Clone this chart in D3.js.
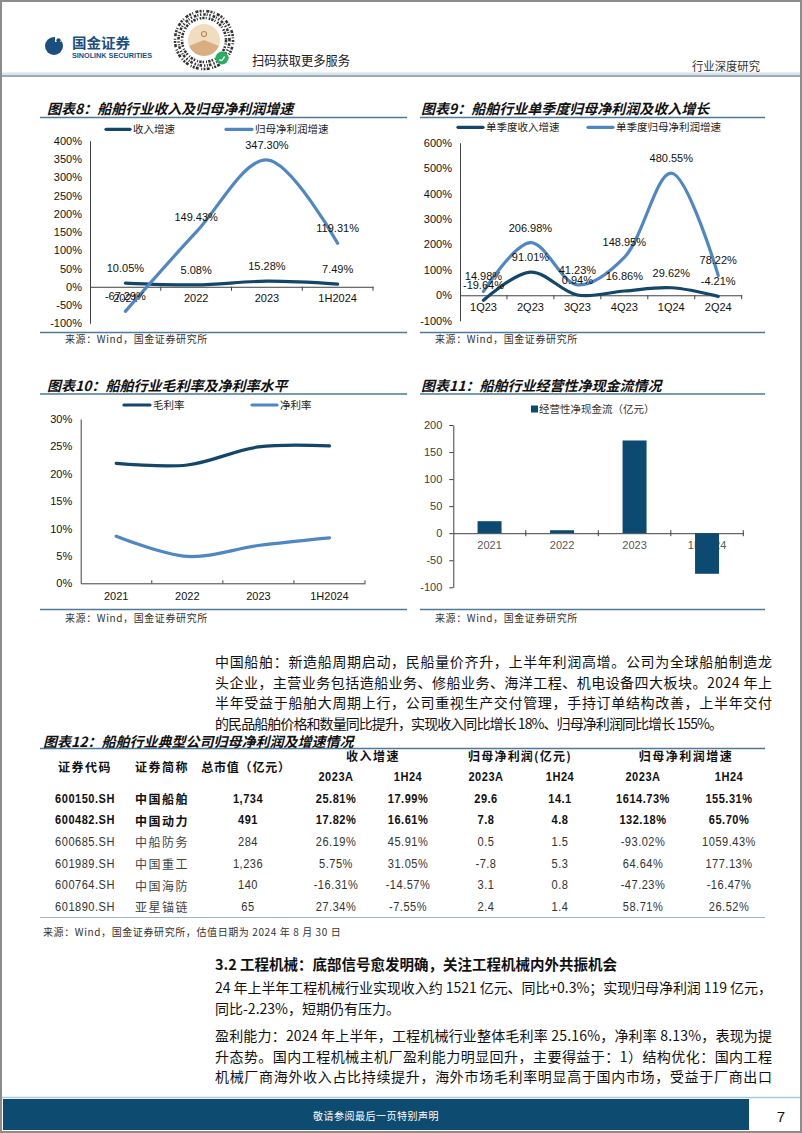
<!DOCTYPE html>
<html><head><meta charset="utf-8">
<script src="https://cdn.jsdelivr.net/npm/d3@7/dist/d3.min.js"></script>
<style>html,body{margin:0;padding:0;background:#fff;}svg{display:block;}</style>
</head><body>
<svg id="page" width="802" height="1133"></svg>
<script>
// ---------------- DATA ----------------
const c8Cats = ["2021","2022","2023","1H2024"];
const c8Rev = [10.05, 5.08, 15.28, 7.49];
const c8Profit = [-67.29, 149.43, 347.30, 119.31];
const c8YTicks = [-100,-50,0,50,100,150,200,250,300,350,400];

const c9Cats = ["1Q23","2Q23","3Q23","4Q23","1Q24","2Q24"];
const c9Rev = [-19.64, 91.01, 0.94, 16.86, 29.62, -4.21];
const c9Profit = [14.98, 206.98, 41.23, 148.95, 480.55, 78.22];
const c9YTicks = [-100,0,100,200,300,400,500,600];

const c10Cats = ["2021","2022","2023","1H2024"];
const c10Gross = [21.9, 21.6, 24.9, 25.1];
const c10Net = [8.6, 4.9, 6.9, 8.3];
const c10YTicks = [0,5,10,15,20,25,30];

const c11Cats = ["2021","2022","2023","1H2024"];
const c11Cash = [22.2, 5.5, 171.4, -75];
const c11YTicks = [-100,-50,0,50,100,150,200];

const tCodes = ["600150.SH","600482.SH","600685.SH","601989.SH","600764.SH","601890.SH"];
const tNames = ["中国船舶","中国动力","中船防务","中国重工","中国海防","亚星锚链"];
const tMktCap = ["1,734","491","284","1,236","140","65"];
const tRev23 = ["25.81%","17.82%","26.19%","5.75%","-16.31%","27.34%"];
const tRev24 = ["17.99%","16.61%","45.91%","31.05%","-14.57%","-7.55%"];
const tNp23 = ["29.6","7.8","0.5","-7.8","3.1","2.4"];
const tNp24 = ["14.1","4.8","1.5","5.3","0.8","1.4"];
const tG23 = ["1614.73%","132.18%","-93.02%","64.64%","-47.23%","58.71%"];
const tG24 = ["155.31%","65.70%","1059.43%","177.13%","-16.47%","26.52%"];

// ---------------- STYLE ----------------
const CN = '"Noto Sans CJK SC", sans-serif';
const LAT = '"Liberation Sans", Arial, "Noto Sans CJK SC", sans-serif';
const DARK = "#12466b";
const LIGHT = "#4f86c4";
const RULE = "#4d7a99";

const svg = d3.select("#page");
svg.append("rect").attr("x",0).attr("y",0).attr("width",802).attr("height",1133).attr("fill","#fff");

function txt(g, x, y, s, o={}) {
  const t = g.append("text").attr("x",x).attr("y",y).text(s)
    .attr("font-family", o.ff || CN).attr("font-size", o.fs || 12)
    .attr("fill", o.fill || "#000").attr("dominant-baseline","central");
  if (o.anchor) t.attr("text-anchor", o.anchor);
  if (o.fw) t.attr("font-weight", o.fw);
  if (o.italic) t.attr("font-style","italic");
  if (o.ls) t.attr("letter-spacing", o.ls);
  if (o.tl) t.attr("textLength", o.tl).attr("lengthAdjust","spacingAndGlyphs");
  if (o.tls) t.attr("textLength", o.tls).attr("lengthAdjust","spacing");
  return t;
}
function hline(x1,x2,y,color,w){ svg.append("line").attr("x1",x1).attr("x2",x2).attr("y1",y).attr("y2",y).attr("stroke",color).attr("stroke-width",w); }

// ---------------- PAGE HEADER ----------------
const logo = svg.append("g");
logo.append("circle").attr("cx",54).attr("cy",46).attr("r",9).attr("fill","#1b4f7f");
logo.append("rect").attr("x",55).attr("y",36).attr("width",6).attr("height",6).attr("fill","#fff");
logo.append("circle").attr("cx",58.5).attr("cy",40.5).attr("r",2.2).attr("fill","#1b4f7f");
txt(svg, 72, 42, "国金证券", {fs:14, fw:"bold", fill:"#1b4f7f", tl:58});
txt(svg, 72, 55, "SINOLINK SECURITIES", {ff:LAT, fs:6.5, fw:"bold", fill:"#1b4f7f", tl:80});
// mini program code
const qr = svg.append("g").attr("transform","translate(204,40)");
[[29,"2 1.3 1 2.5 3 1.2"],[25.5,"1.4 2 2.6 1 1 1.6"],[22,"2.4 1.2 1 2 1.6 1"]].forEach(([r,da])=>{
  qr.append("circle").attr("r",r).attr("fill","none").attr("stroke","#333").attr("stroke-width",2.6).attr("stroke-dasharray",da);
});
qr.append("circle").attr("r",16).attr("fill","#f2dcc0");
qr.append("path").attr("d", d3.arc()({innerRadius:0,outerRadius:16,startAngle:Math.PI*0.62,endAngle:Math.PI*1.38})).attr("fill","#d9ae82");
qr.append("circle").attr("cy",-6).attr("r",2.5).attr("fill","none").attr("stroke","#b8875a").attr("stroke-width",1.2);
qr.append("circle").attr("cx",18).attr("cy",18).attr("r",6.5).attr("fill","#2aae63");
qr.append("path").attr("d","M15.5,19.5 q2.5,3 5,-3").attr("stroke","#fff").attr("stroke-width",1.4).attr("fill","none");
txt(svg, 252, 59, "扫码获取更多服务", {fs:13, fill:"#222", tl:98});
txt(svg, 692, 65, "行业深度研究", {fs:12, fill:"#333", tl:68});
svg.append("rect").attr("x",2).attr("y",72.5).attr("width",798).attr("height",2.5).attr("fill","#d5e4ee");
hline(2,800,76,"#7e8f9b",1.6);

// ---------------- helpers ----------------
function chartTitle(x, y, s, lineX1, lineX2, lineY) {
  txt(svg, x, y, s, {fs:14, fw:"bold", italic:true, fill:"#111"});
  hline(lineX1, lineX2, lineY, RULE, 1.5);
}
function source(x, y, s, lineX1, lineX2, lineY) {
  if (lineY) hline(lineX1, lineX2, lineY, RULE, 1.5);
  txt(svg, x, y, s, {fs:10, fill:"#333", ls:0.6});
}
function lineLegend(g, items, y) {
  items.forEach(it => {
    g.append("line").attr("x1",it.x1).attr("x2",it.x2).attr("y1",y).attr("y2",y)
      .attr("stroke",it.color).attr("stroke-width",3.2).attr("stroke-linecap","round");
    txt(g, it.x2+3, y, it.label, {ff:LAT, fs:10.5, fill:"#222"});
  });
}
function yAxis(g, y, ticks, xPos, fmt, pad, color) {
  const ax = g.append("g").attr("transform",`translate(${xPos},0)`)
    .call(d3.axisLeft(y).tickValues(ticks).tickFormat(fmt).tickSize(0).tickSizeOuter(0).tickPadding(pad));
  ax.select(".domain").attr("stroke","#404040").attr("stroke-width",1);
  ax.selectAll("text").attr("font-family",LAT).attr("font-size",11).attr("fill",color||"#111");
  return ax;
}
function xAxis(g, x, yPos, pad, color, tickUp, tickDown) {
  const ax = g.append("g").attr("transform",`translate(0,${yPos})`)
    .call(d3.axisBottom(x).tickSize(0).tickSizeOuter(0).tickPadding(pad));
  ax.select(".domain").attr("stroke","#404040").attr("stroke-width",1);
  ax.selectAll("text").attr("font-family",LAT).attr("font-size",11).attr("fill",color||"#111");
  const bounds = x.domain().slice(1).map(c=>x(c)).concat([x.range()[1]]);
  ax.selectAll(".bt").data(bounds).enter().append("line").attr("class","bt")
    .attr("x1",d=>d).attr("x2",d=>d).attr("y1",-tickUp).attr("y2",tickDown).attr("stroke","#404040").attr("stroke-width",1);
  return ax;
}
function drawLine(g, x, y, cats, vals, color) {
  const line = d3.line().x((d,i)=>x(cats[i])+x.bandwidth()/2).y(d=>y(d)).curve(d3.curveCatmullRom.alpha(0.5));
  g.append("path").attr("d", line(vals)).attr("fill","none").attr("stroke",color)
    .attr("stroke-width",3.2).attr("stroke-linecap","round").attr("stroke-linejoin","round");
}
function dataLabels(g, x, y, cats, vals) {
  vals.forEach((v,i)=>{
    txt(g, x(cats[i])+x.bandwidth()/2, y(v)-15, v.toFixed(2)+"%", {ff:LAT, fs:11, anchor:"middle", fill:"#111"});
  });
}
const pct = d => d + "%";

// ---------------- CHART 8 ----------------
chartTitle(47, 108, "图表8：船舶行业收入及归母净利润增速", 40, 407, 117.5);
{
  const g = svg.append("g");
  const x = d3.scaleBand().domain(c8Cats).range([90,373]);
  const y = d3.scaleLinear().domain([-100,400]).range([323.3,140.7]);
  yAxis(g, y, c8YTicks, 90, pct, 8);
  xAxis(g, x, y(0), 7, "#111", 0, 4);
  lineLegend(g, [{x1:106,x2:130,color:DARK,label:"收入增速"},{x1:226,x2:252,color:LIGHT,label:"归母净利润增速"}], 129.3);
  drawLine(g, x, y, c8Cats, c8Rev, DARK);
  drawLine(g, x, y, c8Cats, c8Profit, LIGHT);
  dataLabels(g, x, y, c8Cats, c8Rev);
  dataLabels(g, x, y, c8Cats, c8Profit);
}
source(65, 338.5, "来源：Wind，国金证券研究所", 40, 407, 332.5);

// ---------------- CHART 9 ----------------
chartTitle(421, 108, "图表9：船舶行业单季度归母净利润及收入增长", 420, 765, 117.5);
{
  const g = svg.append("g");
  const x = d3.scaleBand().domain(c9Cats).range([460,741.7]);
  const y = d3.scaleLinear().domain([-100,600]).range([320.7,142.7]);
  yAxis(g, y, c9YTicks, 460, pct, 8);
  xAxis(g, x, y(0), 7.5, "#111", 0, 4);
  lineLegend(g, [{x1:458,x2:483,color:DARK,label:"单季度收入增速"},{x1:588,x2:613,color:LIGHT,label:"单季度归母净利润增速"}], 127.3);
  drawLine(g, x, y, c9Cats, c9Rev, DARK);
  drawLine(g, x, y, c9Cats, c9Profit, LIGHT);
  dataLabels(g, x, y, c9Cats, c9Rev);
  dataLabels(g, x, y, c9Cats, c9Profit);
}
source(435, 338.5, "来源：Wind，国金证券研究所", 420, 765, 332.5);

// ---------------- CHART 10 ----------------
chartTitle(47, 385, "图表10：船舶行业毛利率及净利率水平", 40, 407, 394);
{
  const g = svg.append("g");
  const x = d3.scaleBand().domain(c10Cats).range([80.7,365]);
  const y = d3.scaleLinear().domain([0,30]).range([583.3,419]);
  yAxis(g, y, c10YTicks, 80.7, pct, 8.5);
  xAxis(g, x, y(0), 8.5, "#111", 3, 0);
  lineLegend(g, [{x1:124,x2:150,color:DARK,label:"毛利率"},{x1:252,x2:277,color:LIGHT,label:"净利率"}], 405);
  drawLine(g, x, y, c10Cats, c10Gross, DARK);
  drawLine(g, x, y, c10Cats, c10Net, LIGHT);
}
source(65, 617, "来源：Wind，国金证券研究所", 40, 407, 609.5);

// ---------------- CHART 11 ----------------
chartTitle(421, 385, "图表11：船舶行业经营性净现金流情况", 420, 765, 394);
{
  const g = svg.append("g");
  const x = d3.scaleBand().domain(c11Cats).range([453.3,743.3]);
  const y = d3.scaleLinear().domain([-100,200]).range([587.3,425]);
  const ya = yAxis(g, y, c11YTicks, 453.3, d=>d, 11, "#404040");
  ya.selectAll(".tick").append("line").attr("x1",-4).attr("x2",0).attr("stroke","#404040");
  xAxis(g, x, y(0), 8.5, "#595959", 3, 3);
  const bw = 24;
  g.selectAll(".bar").data(c11Cash).enter().append("rect").attr("class","bar")
    .attr("x",(d,i)=>x(c11Cats[i])+x.bandwidth()/2-bw/2).attr("width",bw)
    .attr("y",d=>y(Math.max(0,d))).attr("height",d=>Math.abs(y(d)-y(0)))
    .attr("fill","#0d4a72");
  g.append("rect").attr("x",531).attr("y",405.5).attr("width",7).attr("height",7).attr("fill","#0d4a72");
  txt(g, 539, 409, "经营性净现金流（亿元）", {ff:LAT, fs:10.5, fill:"#333"});
}
source(435, 617, "来源：Wind，国金证券研究所", 420, 765, 609.5);

// ---------------- PARAGRAPH 1 ----------------
const P = {fs:14, fill:"#111"};
txt(svg, 215, 661, "中国船舶：新造船周期启动，民船量价齐升，上半年利润高增。公司为全球船舶制造龙", Object.assign({tls:557},P));
txt(svg, 215, 681.5, "头企业，主营业务包括造船业务、修船业务、海洋工程、机电设备四大板块。2024 年上", Object.assign({tls:557},P));
txt(svg, 215, 702, "半年受益于船舶大周期上行，公司重视生产交付管理，手持订单结构改善，上半年交付", Object.assign({tls:557},P));
txt(svg, 215, 722.5, "的民品船舶价格和数量同比提升，实现收入同比增长 18%、归母净利润同比增长 155%。", Object.assign({tls:508},P));

// ---------------- TABLE ----------------
chartTitle(43, 740.5, "图表12：船舶行业典型公司归母净利润及增速情况", 40, 765, 748.5);
{
  const g = svg.append("g");
  const H = {fs:12, fw:"bold", anchor:"middle", fill:"#111", ls:1.5};
  txt(g, 373, 755, "收入增速", H);
  txt(g, 520, 755, "归母净利润(亿元)", Object.assign({},H,{ls:1.2}));
  txt(g, 686, 755, "归母净利润增速", H);
  txt(g, 85, 766, "证券代码", H);
  txt(g, 162, 766, "证券简称", H);
  txt(g, 246, 766, "总市值（亿元）", Object.assign({},H,{ls:0.8}));
  const colX = [336, 408, 486, 560, 643, 729];
  function num(cx, cy, s, bold, fill) {
    g.append("text").attr("transform",`translate(${cx},${cy}) scale(0.85,1)`).text(s)
      .attr("font-family",LAT).attr("font-size",13).attr("text-anchor","middle")
      .attr("dominant-baseline","central").attr("fill",fill)
      .attr("font-weight", bold ? "bold" : "normal").attr("letter-spacing",0.6);
  }
  ["2023A","1H24","2023A","1H24","2023A","1H24"].forEach((s,i)=>num(colX[i], 777, s, true, "#111"));
  const rowY = [798.5, 820, 841.7, 863.3, 885, 906.5];
  tCodes.forEach((code,i)=>{
    const b = i < 2, col = b ? "#111" : "#333";
    num(85, rowY[i], code, b, col);
    txt(g, 162, rowY[i], tNames[i], {fs:12, fw:b?"bold":"normal", anchor:"middle", fill:b?"#111":"#444", ls:1.5});
    num(248, rowY[i], tMktCap[i], b, col);
    [tRev23, tRev24, tNp23, tNp24, tG23, tG24].forEach((arr,j)=>num(colX[j], rowY[i], arr[i], b, col));
  });
}
hline(40, 765, 917.5, "#9db5c6", 1);
txt(svg, 43, 931, "来源：Wind，国金证券研究所，估值日期为 2024 年 8 月 30 日", {fs:10, fill:"#333", ls:0.6});

// ---------------- SECTION 3.2 ----------------
txt(svg, 215, 963, "3.2 工程机械：底部信号愈发明确，关注工程机械内外共振机会", {fs:14.5, fw:"bold", fill:"#111"});
txt(svg, 215, 987, "24 年上半年工程机械行业实现收入约 1521 亿元、同比+0.3%；实现归母净利润 119 亿元，", Object.assign({tls:557},P));
txt(svg, 215, 1007.5, "同比-2.23%，短期仍有压力。", P);
txt(svg, 215, 1035, "盈利能力：2024 年上半年，工程机械行业整体毛利率 25.16%，净利率 8.13%，表现为提", Object.assign({tls:557},P));
txt(svg, 215, 1055.5, "升态势。国内工程机械主机厂盈利能力明显回升，主要得益于：1）结构优化：国内工程", Object.assign({tls:557},P));
txt(svg, 215, 1076, "机械厂商海外收入占比持续提升，海外市场毛利率明显高于国内市场，受益于厂商出口", Object.assign({tls:557},P));

// ---------------- FOOTER ----------------
hline(2, 800, 1097.5, "#a9cbe0", 1.5);
svg.append("rect").attr("x",3).attr("y",1099).attr("width",746).attr("height",31).attr("fill","#0e4b70");
txt(svg, 376, 1115, "敬请参阅最后一页特别声明", {fs:10, fill:"#fff", anchor:"middle", ls:0.5});
txt(svg, 781, 1116, "7", {ff:LAT, fs:15, anchor:"middle", fill:"#111"});

svg.append("rect").attr("x",1).attr("y",1).attr("width",800).attr("height",1131).attr("fill","none").attr("stroke","#8c8c8c").attr("stroke-width",2);
</script>
</body></html>
